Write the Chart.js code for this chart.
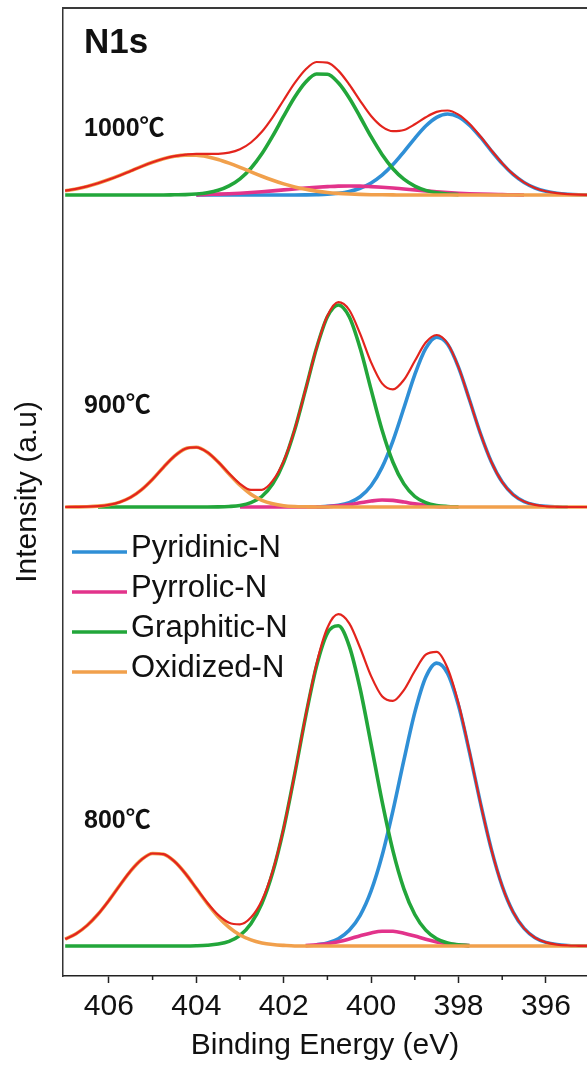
<!DOCTYPE html>
<html>
<head>
<meta charset="utf-8">
<script src="https://cdn.jsdelivr.net/npm/chart.js@4/dist/chart.umd.min.js"></script>
<style>
  html, body { margin: 0; padding: 0; background: #fff; overflow: hidden; }
  #wrap { width: 587px; height: 1071px; }
</style>
</head>
<body>
<div id="wrap"><canvas id="xps" width="587" height="1071"></canvas></div>
<script>
// ====== DATA ======
// binding energy grid (eV)
const energy = [407, 406.75, 406.5, 406.25, 406, 405.75, 405.5, 405.25, 405, 404.75, 404.5, 404.25, 404,
  403.75, 403.5, 403.25, 403, 402.75, 402.5, 402.25, 402, 401.75, 401.5, 401.25, 401, 400.75, 400.5,
  400.25, 400, 399.75, 399.5, 399.25, 399, 398.75, 398.5, 398.25, 398, 397.75, 397.5, 397.25, 397,
  396.75, 396.5, 396.25, 396, 395.75, 395.5, 395.25, 395];

const xTicks = [396, 398, 400, 402, 404, 406];
const minorTicks = [397, 399, 401, 403, 405];

const components = ["Pyridinic-N", "Pyrrolic-N", "Graphitic-N", "Oxidized-N"];
const colors = ["#2f8fd6", "#e2338b", "#22a63a", "#f1a04c"];
const envelopeColor = "#e3241d";

const samples = ["800℃", "900℃", "1000℃"];
const offsets = [30, 469, 781]; // vertical stacking of the spectra

// 800℃
const pyridinic800 = [null, null, null, null, null, null, null, null, null, null, null, null, null,
  null, null, null, null, null, null, null, null, null, null, 1.2, 3.1, 7.3, 15.7, 30.7, 55.1, 90.2,
  135.4, 185.9, 233.6, 268.7, 282.9, 272.6, 240.4, 194.0, 143.3, 96.9, 59.9, 33.9, 17.6, 8.3, 3.6,
  1.4, 0.5, 0.2, 0];
const pyrrolic800 = [null, null, null, null, null, null, null, null, null, null, null, null, null,
  null, null, null, null, null, null, null, null, null, 0.4, 1.1, 2.3, 4.3, 7.1, 10.3, 13.1, 14.8,
  14.7, 12.8, 9.9, 6.7, 4.0, 2.1, 1.0, 0.4, null, null, null, null, null, null, null, null, null,
  null, null];
const graphitic800 = [0, 0, 0, 0, 0, 0, 0, 0, 0, 0, 0, 0, 0.2, 0.7, 1.9, 4.7, 10.7, 22.3, 42.4, 73.9,
  117.7, 171.6, 229.1, 279.8, 312.9, 320.2, 299.9, 257.0, 201.7, 144.8, 95.1, 57.2, 31.5, 15.9, 7.3,
  3.1, 1.2, 0.4, null, null, null, null, null, null, null, null, null, null, null];
const oxidized800 = [6.9, 12.3, 20.5, 31.7, 45.5, 60.7, 75.2, 86.5, 92.5, 91.8, 84.6, 72.5, 57.6,
  42.6, 29.2, 18.6, 11.0, 6.1, 3.1, 1.5, 0.6, 0, 0, 0, 0, 0, 0, 0, 0, 0, 0, 0, 0, 0, 0, 0, 0, 0, 0,
  0, 0, 0, 0, 0, 0, 0, 0, 0, 0];
const envelope800 = [6.9, 12.3, 20.5, 31.7, 45.5, 60.7, 75.2, 86.5, 92.5, 91.8, 84.6, 72.5, 57.8,
  43.3, 31.1, 23.3, 21.7, 28.4, 45.5, 75.4, 118.3, 171.9, 229.9, 282.1, 318.3, 331.8, 322.7, 298.0,
  269.9, 249.8, 245.2, 255.9, 275.0, 291.3, 294.2, 277.8, 242.6, 194.8, 143.3, 96.9, 59.9, 33.9,
  17.6, 8.3, 3.6, 1.4, 0.5, 0.2, 0];

// 900℃
const pyridinic900 = [null, null, null, null, null, null, null, null, null, null, null, null, null,
  null, null, null, null, null, null, null, null, null, null, 0.2, 0.6, 1.7, 4.4, 10.2, 21.2, 39.6,
  66.2, 99.0, 132.4, 158.6, 169.9, 162.8, 139.7, 107.2, 73.7, 45.3, 24.9, 12.3, 5.4, 2.1, 0.7, 0.2,
  0, null, null];
const pyrrolic900 = [null, null, null, null, null, null, null, null, null, null, null, null, null,
  null, null, null, 0, 0, 0, 0, 0, 0, 0, 0, 0.4, 1.1, 2.4, 4.2, 6.0, 7.0, 6.6, 5.0, 3.1, 1.6, 0.6,
  0.2, null, null, null, null, null, null, null, null, null, null, null, null, null];
const graphitic900 = [null, null, null, 0, 0, 0, 0, 0, 0, 0, 0, 0, 0, 0, 0.1, 0.5, 1.5, 4.3, 10.5,
  23.1, 44.8, 77.0, 117.4, 158.7, 190.2, 202.0, 190.2, 158.7, 117.4, 77.0, 44.8, 23.1, 10.5, 4.3,
  1.5, 0.5, 0.1, null, null, null, null, null, null, null, null, null, null, null, null];
const oxidized900 = [0, 0.1, 0.3, 0.9, 2.2, 4.9, 9.7, 17.4, 27.8, 39.8, 50.9, 58.3, 59.7, 54.8, 45.0,
  33.0, 21.7, 12.8, 6.7, 3.2, 1.3, 0.5, 0.2, 0, 0, 0, 0, 0, 0, 0, 0, 0, 0, 0, 0, 0, 0, 0, 0, 0, 0, 0,
  0, 0, 0, 0, 0, 0, 0];
const envelope900 = [0, 0.1, 0.3, 0.9, 2.2, 4.9, 9.7, 17.4, 27.8, 39.8, 50.9, 58.3, 59.7, 54.8, 45.1,
  33.5, 23.2, 17.1, 17.2, 26.3, 46.1, 77.5, 117.6, 158.9, 191.2, 204.8, 197.0, 173.1, 144.6, 123.6,
  117.6, 127.1, 146.0, 164.5, 172.0, 163.5, 139.8, 107.2, 73.7, 45.3, 24.9, 12.3, 5.4, 2.1, 0.7,
  0.2, 0, 0, 0];

// 1000℃
const pyridinic1000 = [null, null, null, null, null, null, null, null, null, null, null, null, 0, 0,
  0, 0, 0, 0, 0, 0, 0, 0, 0.1, 0.3, 0.7, 1.7, 3.5, 6.7, 12.0, 19.8, 30.4, 43.2, 56.7, 69.0, 77.7,
  81.0, 78.2, 69.8, 57.8, 44.2, 31.4, 20.6, 12.5, 7.0, 3.7, 1.8, 0.8, 0.3, 0.1];
const pyrrolic1000 = [null, null, null, null, null, null, null, null, null, null, null, null, 0, 0.6,
  0.9, 1.3, 1.8, 2.5, 3.2, 4.1, 5.1, 6.0, 7.0, 7.8, 8.4, 8.9, 9.0, 8.9, 8.4, 7.8, 7.0, 6.0, 5.1, 4.1,
  3.2, 2.5, 1.8, 1.3, 0.9, 0.6, 0.4, 0.2, 0, null, null, null, null, null, null];
const graphitic1000 = [0, 0, 0, 0, 0, 0, 0, 0, 0, 0, 0.2, 0.4, 1.0, 2.3, 4.7, 9.1, 16.2, 26.8, 41.2,
  59.1, 78.8, 97.7, 112.7, 121.0, 120.8, 112.2, 97.0, 78.0, 58.3, 40.6, 26.3, 15.8, 8.9, 4.6, 2.2,
  1.0, 0.4, null, null, null, null, null, null, null, null, null, null, null, null];
const oxidized1000 = [4.2, 6.1, 8.6, 11.8, 15.5, 19.6, 24.1, 28.6, 32.7, 36.2, 38.7, 39.9, 39.8, 38.3,
  35.6, 31.9, 27.7, 23.2, 18.8, 14.7, 11.1, 8.1, 5.7, 3.9, 2.5, 1.6, 1.0, 0.6, 0.3, 0.2, 0.1, 0, 0,
  0, 0, 0, 0, 0, 0, 0, 0, 0, 0, 0, 0, 0, 0, 0, 0];
const envelope1000 = [4.2, 6.1, 8.6, 11.8, 15.5, 19.6, 24.1, 28.6, 32.7, 36.2, 38.9, 40.3, 41.2, 41.2,
  41.2, 42.3, 45.7, 52.5, 63.2, 77.9, 95.0, 111.8, 125.5, 133.0, 132.4, 124.4, 110.5, 94.2, 79.0,
  68.4, 63.8, 65.0, 70.7, 77.7, 83.1, 84.5, 80.4, 71.3, 58.7, 44.8, 31.8, 20.8, 12.6, 7.0, 3.7, 1.8,
  0.8, 0.3, 0.1];

const fits = [
  [pyridinic800, pyrrolic800, graphitic800, oxidized800, envelope800],
  [pyridinic900, pyrrolic900, graphitic900, oxidized900, envelope900],
  [pyridinic1000, pyrrolic1000, graphitic1000, oxidized1000, envelope1000]
];

// ====== DATASETS ======
function points(values, offset) {
  return energy
    .map((e, i) => (values[i] === null ? null : { x: e, y: values[i] + offset }))
    .filter(p => p);
}

const datasets = [];
fits.forEach((set, s) => {
  set.forEach((values, c) => {
    const isEnvelope = c === 4;
    datasets.push({
      label: isEnvelope ? samples[s] : components[c],
      data: points(values, offsets[s]),
      showLine: true,
      borderColor: isEnvelope ? envelopeColor : colors[c],
      borderWidth: isEnvelope ? 2.2 : 3.6,
      pointRadius: 0,
      cubicInterpolationMode: "monotone",
      order: isEnvelope ? 0 : 4 - c
    });
  });
});

// ====== EXTRAS: frame, minor ticks, labels, legend ======
const font = "'Liberation Sans', Arial, 'Noto Sans CJK SC', sans-serif";

const extras = {
  id: "extras",
  afterDraw(chart) {
    const { ctx, chartArea: a, scales: { x, y } } = chart;
    ctx.save();

    ctx.strokeStyle = "#3a3a3a";
    ctx.lineWidth = 2;
    ctx.beginPath();
    ctx.moveTo(a.left - 1, a.top);
    ctx.lineTo(a.right, a.top);
    ctx.stroke();

    ctx.strokeStyle = "#222";
    ctx.lineWidth = 1.5;
    minorTicks.forEach(v => {
      const px = x.getPixelForValue(v);
      ctx.beginPath();
      ctx.moveTo(px, a.bottom);
      ctx.lineTo(px, a.bottom + 4);
      ctx.stroke();
    });

    ctx.fillStyle = "#111";
    ctx.textAlign = "left";
    ctx.textBaseline = "alphabetic";
    ctx.font = "bold 35px " + font;
    ctx.fillText("N1s", x.getPixelForValue(406.57), y.getPixelForValue(923));

    const labelY = [148, 563, 840];
    ctx.font = "bold 25px " + font;
    samples.forEach((t, i) => {
      ctx.fillText(t, x.getPixelForValue(406.57), y.getPixelForValue(labelY[i]));
    });

    // legend
    ctx.font = "31px " + font;
    ctx.textBaseline = "middle";
    components.forEach((name, i) => {
      const ly = 552 + i * 40;
      ctx.strokeStyle = colors[i];
      ctx.lineWidth = 3.5;
      ctx.beginPath();
      ctx.moveTo(72, ly);
      ctx.lineTo(127, ly);
      ctx.stroke();
      ctx.fillStyle = "#111";
      ctx.fillText(name, 131, ly - 4);
    });

    ctx.restore();
  }
};

// ====== CHART ======
new Chart(document.getElementById("xps"), {
  type: "scatter",
  data: { datasets },
  options: {
    responsive: false,
    animation: false,
    layout: { padding: { top: 8, right: 0, left: 0, bottom: 0 } },
    plugins: { legend: { display: false }, tooltip: { enabled: false } },
    scales: {
      x: {
        type: "linear",
        reverse: true,
        min: 395.06,
        max: 407.05,
        afterBuildTicks: s => { s.ticks = xTicks.map(v => ({ value: v })); },
        afterFit: s => { s.height = 95; },
        grid: { drawOnChartArea: false, drawTicks: true, tickLength: 7, tickWidth: 1.5, tickColor: "#222" },
        border: { color: "#222", width: 1.5 },
        ticks: { font: { family: font, size: 30 }, color: "#111", padding: 6, maxRotation: 0, autoSkip: false },
        title: { display: true, text: "Binding Energy (eV)", font: { family: font, size: 30 }, color: "#111", padding: { top: 0, bottom: 7 } }
      },
      y: {
        min: 0,
        max: 968,
        afterFit: s => { s.width = 63; },
        ticks: { display: false },
        grid: { display: false },
        border: { display: true, color: "#333", width: 1.5 },
        title: { display: true, text: "Intensity (a.u)", font: { family: font, size: 30 }, color: "#111", padding: { top: 10, bottom: 0 } }
      }
    }
  },
  plugins: [extras]
});
</script>
</body>
</html>
